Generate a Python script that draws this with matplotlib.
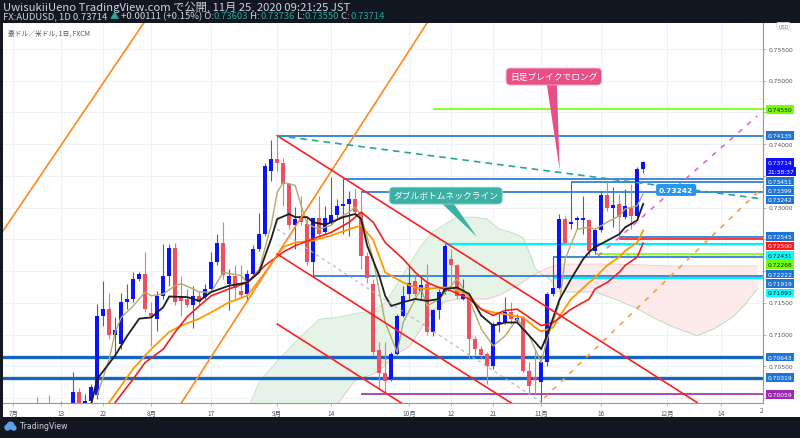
import matplotlib.pyplot as plt
import numpy as np
from matplotlib.patches import Rectangle, Polygon, Circle

plt.rcParams['font.family'] = ['Noto Sans CJK JP', 'DejaVu Sans']

# ---- daily candles (AUDUSD, bar 0 = 1 Jul 2020) ----
opens = [0.6895, 0.6925, 0.6940, 0.6935, 0.6975, 0.6960, 0.6980, 0.6965, 0.6975, 0.6950,
         0.6985, 0.7010, 0.6988, 0.6995, 0.7004, 0.7129, 0.7141, 0.7099, 0.7085, 0.7151,
         0.7156, 0.7188, 0.7195, 0.7134, 0.7125, 0.7161, 0.7193, 0.7236, 0.7159, 0.7156,
         0.7146, 0.7161, 0.7159, 0.7172, 0.7214, 0.7244, 0.7180, 0.7193, 0.7168, 0.7164,
         0.7195, 0.7235, 0.7258, 0.7358, 0.7377, 0.7371, 0.7337, 0.7273, 0.7287, 0.7274,
         0.7214, 0.7283, 0.7261, 0.7277, 0.7288, 0.7302, 0.7306, 0.7314, 0.7293, 0.7224,
         0.7180, 0.7075, 0.7040, 0.7030, 0.7069, 0.7130, 0.7164, 0.7185, 0.7168, 0.7180,
         0.7104, 0.7138, 0.7167, 0.7219, 0.7209, 0.7156, 0.7159, 0.7093, 0.7077, 0.7069,
         0.7051, 0.7117, 0.7119, 0.7135, 0.7122, 0.7127, 0.7043, 0.7033, 0.7025, 0.7056,
         0.7164, 0.7174, 0.7282, 0.7274, 0.7281, 0.7281, 0.7281, 0.7232, 0.7265, 0.7320,
         0.7299, 0.7306, 0.7285, 0.7300, 0.7287, 0.73603]
highs = [0.6935, 0.6960, 0.6955, 0.6985, 0.7002, 0.6985, 0.7004, 0.6985, 0.6996, 0.6990,
         0.7041, 0.7015, 0.7006, 0.7022, 0.7148, 0.7185, 0.7165, 0.7127, 0.7166, 0.7180,
         0.7198, 0.7199, 0.7230, 0.7152, 0.7169, 0.7243, 0.7243, 0.7245, 0.7193, 0.7172,
         0.7177, 0.7169, 0.7180, 0.7230, 0.7258, 0.7277, 0.7203, 0.7209, 0.7209, 0.7201,
         0.7241, 0.7291, 0.7371, 0.7406, 0.74135, 0.7379, 0.7339, 0.7301, 0.7319, 0.7287,
         0.7284, 0.7319, 0.7303, 0.7348, 0.7314, 0.73451, 0.7327, 0.7329, 0.73242, 0.7230,
         0.7188, 0.7088, 0.7088, 0.7072, 0.7132, 0.7177, 0.7209, 0.7193, 0.7193, 0.7211,
         0.7140, 0.7172, 0.72431, 0.7235, 0.7211, 0.7188, 0.7161, 0.7098, 0.7082, 0.7072,
         0.7119, 0.7135, 0.7159, 0.7151, 0.7132, 0.7130, 0.7056, 0.7077, 0.7059, 0.7167,
         0.72222, 0.7290, 0.7287, 0.73399, 0.7287, 0.7319, 0.7282, 0.7266, 0.7327, 0.7340,
         0.7332, 0.7322, 0.7329, 0.7337, 0.7364, 0.73736]
lows = [0.6880, 0.6905, 0.6925, 0.6930, 0.6955, 0.6945, 0.6960, 0.6945, 0.6940, 0.6945,
        0.6975, 0.6980, 0.6978, 0.6985, 0.6998, 0.7114, 0.7093, 0.7067, 0.7077, 0.7140,
        0.7151, 0.7184, 0.7135, 0.7082, 0.7106, 0.7156, 0.7176, 0.7146, 0.7130, 0.7143,
        0.7111, 0.7146, 0.7156, 0.7169, 0.7210, 0.7188, 0.7138, 0.7156, 0.7159, 0.7153,
        0.7193, 0.7232, 0.7256, 0.7342, 0.7358, 0.7303, 0.7266, 0.7235, 0.7272, 0.7209,
        0.71919, 0.7256, 0.7258, 0.7274, 0.7282, 0.7258, 0.7256, 0.7287, 0.7203, 0.7182,
        0.7067, 0.7014, 0.70059, 0.7027, 0.7067, 0.7127, 0.7156, 0.7161, 0.7156, 0.7100,
        0.7098, 0.7125, 0.7164, 0.7174, 0.7156, 0.7154, 0.7061, 0.7067, 0.7061, 0.7022,
        0.7046, 0.7104, 0.7117, 0.7117, 0.7119, 0.7041, 0.7006, 0.7004, 0.6993, 0.7051,
        0.7161, 0.7172, 0.7243, 0.7266, 0.7266, 0.7258, 0.7224, 0.72268, 0.7261, 0.7295,
        0.7269, 0.7250, 0.7282, 0.7266, 0.7285, 0.73550]
closes = [0.6925, 0.6940, 0.6935, 0.6975, 0.6960, 0.6980, 0.6965, 0.6975, 0.6950, 0.6985,
          0.7010, 0.6990, 0.6996, 0.7018, 0.7129, 0.7141, 0.7099, 0.7107, 0.7151, 0.7156,
          0.7188, 0.7195, 0.7140, 0.7129, 0.7161, 0.7193, 0.7236, 0.7151, 0.7153, 0.7146,
          0.7161, 0.7151, 0.7172, 0.7214, 0.7244, 0.7194, 0.7193, 0.7174, 0.7162, 0.7195,
          0.7235, 0.7258, 0.7366, 0.7377, 0.7371, 0.7337, 0.7273, 0.7282, 0.7277, 0.7214,
          0.7283, 0.7258, 0.7283, 0.7288, 0.7302, 0.7306, 0.7314, 0.7293, 0.7224, 0.7189,
          0.7072, 0.7040, 0.7027, 0.7069, 0.7130, 0.7161, 0.7182, 0.7164, 0.7178, 0.7104,
          0.7138, 0.7167, 0.7240, 0.7209, 0.7161, 0.7164, 0.7093, 0.7077, 0.7067, 0.7051,
          0.7117, 0.7119, 0.7135, 0.7125, 0.7126, 0.7043, 0.7019, 0.7030, 0.7056, 0.7164,
          0.7174, 0.7282, 0.7245, 0.7278, 0.7283, 0.7283, 0.7232, 0.7265, 0.7320, 0.7299,
          0.7304, 0.7285, 0.7302, 0.7287, 0.7361, 0.73714]

# ---- indicator lines (bar, price) ----
olive_bars = [14, 16, 17, 18, 20, 22, 23, 25, 27, 28, 30, 31, 33, 35, 38, 39, 40, 41, 43, 44,
              45, 47, 48, 49, 51, 53, 54, 56, 57, 58, 60, 62, 64, 65, 67, 68, 69, 71, 73, 74,
              76, 78, 80, 82, 84, 86, 88, 89, 91, 92, 94, 96, 97, 99, 101, 102, 104, 105]
olive_vals = [0.7004, 0.7061, 0.7104, 0.7127, 0.7145, 0.7167, 0.7161, 0.7164, 0.7177, 0.7180,
              0.7172, 0.7167, 0.7167, 0.7198, 0.7193, 0.7181, 0.7192, 0.7203, 0.7272, 0.7324,
              0.7340, 0.7335, 0.7303, 0.7274, 0.7266, 0.7272, 0.7282, 0.7293, 0.7301, 0.7287,
              0.7219, 0.7119, 0.7072, 0.7119, 0.7156, 0.7172, 0.7145, 0.7156, 0.7177, 0.7188,
              0.7156, 0.7109, 0.7082, 0.7098, 0.7125, 0.7098, 0.7056, 0.7093, 0.7148, 0.7219,
              0.7266, 0.7269, 0.7266, 0.7277, 0.7287, 0.7298, 0.7303, 0.7322]
black_bars = [13, 14, 17, 19, 21, 23, 25, 26, 29, 31, 33, 36, 39, 41, 43, 44, 46, 47, 49, 50,
              52, 53, 55, 57, 58, 59, 61, 62, 63, 65, 67, 69, 71, 72, 74, 76, 78, 80, 82, 84,
              87, 88, 89, 91, 93, 95, 96, 97, 99, 101, 102, 104, 105]
black_vals = [0.6990, 0.7030, 0.7067, 0.7098, 0.7125, 0.7127, 0.7143, 0.7160, 0.7159, 0.7153,
              0.7167, 0.7177, 0.7182, 0.7198, 0.7251, 0.7282, 0.7290, 0.7285, 0.7285, 0.7277,
              0.7273, 0.7277, 0.7285, 0.7290, 0.7282, 0.7240, 0.7193, 0.7161, 0.7145, 0.7151,
              0.7156, 0.7153, 0.7156, 0.7172, 0.7174, 0.7164, 0.7130, 0.7114, 0.7119, 0.7119,
              0.7088, 0.7077, 0.7099, 0.7154, 0.7188, 0.7219, 0.7230, 0.7238, 0.7248, 0.7258,
              0.7269, 0.7280, 0.7306]
orange_bars = [16, 20, 22, 23, 26, 28, 31, 33, 36, 39, 42, 45, 47, 50, 53, 56, 58, 60, 62, 65,
               67, 69, 71, 73, 76, 78, 80, 82, 85, 87, 88, 90, 91, 93, 96, 97, 99, 101, 102, 104, 105]
orange_vals = [0.6993, 0.7046, 0.7067, 0.7077, 0.7104, 0.7114, 0.7125, 0.7135, 0.7151, 0.7161,
               0.7198, 0.7238, 0.7245, 0.7248, 0.7256, 0.7266, 0.7272, 0.7249, 0.7198, 0.7182,
               0.7174, 0.7172, 0.7174, 0.7174, 0.7161, 0.7140, 0.7135, 0.7132, 0.7127, 0.7111,
               0.7105, 0.7111, 0.7128, 0.7156, 0.7182, 0.7190, 0.7209, 0.7222, 0.7232, 0.7245, 0.7264]
red_bars = [17, 20, 22, 25, 27, 29, 31, 33, 36, 39, 42, 45, 47, 50, 53, 56, 58, 60, 62, 65,
            67, 69, 71, 73, 76, 78, 80, 82, 84, 86, 88, 90, 91, 93, 96, 97, 99, 101, 102, 104, 105]
red_vals = [0.6993, 0.7030, 0.7056, 0.7077, 0.7104, 0.7128, 0.7145, 0.7161, 0.7172, 0.7182,
            0.7209, 0.7230, 0.7240, 0.7251, 0.7261, 0.7277, 0.7293, 0.7277, 0.7245, 0.7219,
            0.7198, 0.7182, 0.7174, 0.7169, 0.7156, 0.7140, 0.7130, 0.7138, 0.7140, 0.7127,
            0.7114, 0.7119, 0.7126, 0.7140, 0.7156, 0.7172, 0.7182, 0.7198, 0.7209, 0.7222, 0.7244]

# ---- cloud spans ----
cloud_bars = [39, 41, 44, 47, 51, 54, 57, 60, 62, 64, 66, 68, 70, 72, 74, 77, 79, 81, 83, 85,
              86, 87, 88, 89, 91, 94, 97, 100, 104, 107, 110, 114, 117, 120, 122, 124]
span_a = [0.6980, 0.7025, 0.7058, 0.7088, 0.7124, 0.7127, 0.7133, 0.7138, 0.7150, 0.7180,
          0.7210, 0.7240, 0.7262, 0.7274, 0.7285, 0.7285, 0.7282, 0.7266, 0.7261, 0.7253,
          0.7230, 0.7205, 0.7195, 0.7192, 0.7167, 0.7167, 0.7167, 0.7157, 0.7141, 0.7125,
          0.7112, 0.7098, 0.7110, 0.7128, 0.7148, 0.7172]
span_b = [0.6940, 0.6945, 0.6950, 0.6960, 0.6975, 0.6990, 0.7028, 0.7038, 0.7052, 0.7070,
          0.7081, 0.7110, 0.7138, 0.7152, 0.7156, 0.7156, 0.7156, 0.7162, 0.7172, 0.7183,
          0.7190, 0.7195, 0.7200, 0.7205, 0.7211, 0.7211, 0.7211, 0.7211, 0.7210, 0.7209,
          0.7208, 0.7208, 0.7208, 0.7208, 0.7208, 0.7208]

# ---- drawings ----
ray_prices = [0.74550, 0.74135, 0.73451, 0.73399, 0.73242, 0.72545, 0.72500, 0.72431,
              0.72268, 0.72222, 0.71919, 0.71893, 0.70643, 0.70319, 0.70059]
ray_start = [70, 44, 55, 93, 58, 101, 101, 72, 97, 90, 50, 90, -2, -2, 58]
ray_colors = ['#76ff03', '#1f74d4', '#1f74d4', '#1f74d4', '#1f74d4', '#1f74d4', '#ff1a1a',
              '#00f0ff', '#76ff03', '#1f74d4', '#1f74d4', '#00f0ff', '#1565c0', '#1565c0', '#9c27b0']
ray_widths = [1.2, 1.2, 1.2, 1.2, 1.2, 1.2, 1.2, 1.6, 1.2, 1.2, 1.2, 1.6, 2.4, 2.4, 1.2]

# trend lines: (bar0, price0, bar1, price1)
orange_trends = [(-2, 0.72590, 22, 0.75944), (27, 0.69772, 70, 0.76060)]
red_trends = [(44, 0.74135, 114, 0.69928), (44, 0.72269, 83, 0.69921), (44, 0.71166, 66, 0.69842)]
teal_dash = (44, 0.74135, 125, 0.73136)
gray_dash = (44, 0.72663, 88, 0.69937)
orange_dash = (88.5, 0.70000, 125, 0.73330)
pink_dash = (97.5, 0.72240, 124, 0.74444)

tick_bars = [0, 8, 15, 23, 33, 44, 53, 66, 73, 80, 88, 98, 109, 118]
tick_labels = ['7月', '13', '22', '8月', '17', '9月', '14', '10月', '12', '21', '11月', '16', '12月', '14']
price_ticks = [0.700, 0.705, 0.710, 0.715, 0.720, 0.725, 0.730, 0.735, 0.740, 0.745, 0.750, 0.755]

# price-scale labels (price, background, text colour)
scale_labels = [(0.74550, '#76ff03', '#131722'), (0.74135, '#1f74d4', 'white'),
                (0.73714, '#1010ff', 'white'), (None, '#1010ff', 'white'),
                (0.73451, '#1f74d4', 'white'), (0.73399, '#1f74d4', 'white'),
                (0.73242, '#1f74d4', 'white'), (0.72545, '#1f74d4', 'white'),
                (0.72500, '#ff1a1a', 'white'), (0.72431, '#00ffff', '#131722'),
                (0.72268, '#76ff03', '#131722'), (0.72222, '#1f74d4', 'white'),
                (0.71919, '#1f74d4', 'white'), (0.71893, '#00ffff', '#131722'),
                (0.70643, '#1f74d4', 'white'), (0.70319, '#1f74d4', 'white'),
                (0.70059, '#9c27b0', 'white')]

W, H = 800, 439
BG = '#131722'


def fx(px):
    return px / W


def fy(py):
    return 1 - py / H


fig = plt.figure(figsize=(W / 100, H / 100), dpi=100, facecolor=BG)
fig.patches.append(Rectangle((fx(3.3), fy(418)), 1 - fx(3.3), fy(24) - fy(418),
                             transform=fig.transFigure, fc='white', ec='none', zorder=-2))

ax = fig.add_axes([fx(3.3), fy(404), fx(763) - fx(3.3), fy(24) - fy(404)])
ax.set_facecolor('white')
ax.set_xlim(-1.65, 124.97)
ax.set_ylim(0.69921, 0.75910)
for s in ['left', 'top']:
    ax.spines[s].set_visible(False)
for s in ['right', 'bottom']:
    ax.spines[s].set_color('#9598a1')
    ax.spines[s].set_linewidth(0.8)

ax.set_xticks(tick_bars)
ax.set_xticklabels(tick_labels, fontsize=4.6, color='#50535e')
ax.set_yticks(price_ticks)
ax.yaxis.tick_right()
ax.set_yticklabels([])
ax.tick_params(axis='x', length=2, width=0.5, color='#9598a1', pad=2)
ax.tick_params(axis='y', length=2, width=0.5, color='#9598a1')
ax.grid(True, color='#eef1f7', lw=0.7, zorder=0)
ax.set_axisbelow(True)

# cloud
cb = np.array(cloud_bars)
sa = np.array(span_a)
sb = np.array(span_b)
ax.fill_between(cb, sa, sb, where=sa >= sb, interpolate=True, color='#e6f4e7', lw=0, zorder=0.5)
ax.fill_between(cb, sa, sb, where=sa < sb, interpolate=True, color='#fdeaea', lw=0, zorder=0.5)
ax.plot(cb, sa, color='#a5d6a7', lw=0.6, alpha=0.8, zorder=0.6)
ax.plot(cb, sb, color='#f5b4b4', lw=0.6, alpha=0.8, zorder=0.6)

# horizontal rays
for p, s0, col, lw in zip(ray_prices, ray_start, ray_colors, ray_widths):
    ax.plot([s0, 126], [p, p], color=col, lw=lw, zorder=2, solid_capstyle='butt')

# candles
idx = np.arange(len(opens))
o, h, l, c = map(np.array, (opens, highs, lows, closes))
up = c >= o
body = np.maximum(np.abs(c - o), 0.00013)
ax.vlines(idx[up], l[up], h[up], color='#5d606b', lw=0.8, zorder=3)
ax.vlines(idx[~up], l[~up], h[~up], color='#f4717d', lw=0.8, zorder=3)
ax.bar(idx[up], body[up], bottom=o[up], width=0.66, color='#0a12ff', lw=0, zorder=4)
ax.bar(idx[~up], body[~up], bottom=c[~up], width=0.66, color='#ef4f5f', lw=0, zorder=4)

# moving averages
ax.plot(olive_bars, olive_vals, color='#b3aa6f', lw=1.0, zorder=5)
ax.plot(orange_bars, orange_vals, color='#ff9800', lw=1.3, zorder=5)
ax.plot(red_bars, red_vals, color='#f02020', lw=1.2, zorder=5)
ax.plot(black_bars, black_vals, color='#1e1e1e', lw=1.3, zorder=5)

# trend lines
for b0, p0, b1, p1 in orange_trends:
    ax.plot([b0, b1], [p0, p1], color='#ff8a1c', lw=1.2, zorder=6)
for b0, p0, b1, p1 in red_trends:
    ax.plot([b0, b1], [p0, p1], color='#ff1f1f', lw=1.2, zorder=6)
ax.plot(teal_dash[::2], teal_dash[1::2], color='#26a69a', lw=1.2, ls=(0, (4, 3)), zorder=6)
ax.plot(gray_dash[::2], gray_dash[1::2], color='#b2b5be', lw=0.8, ls=(0, (3, 3)), zorder=6)
ax.plot(orange_dash[::2], orange_dash[1::2], color='#ff9a3c', lw=1.2, ls=(0, (3, 4)), zorder=6)
ax.plot(pink_dash[::2], pink_dash[1::2], color='#e663d8', lw=1.2, ls=(0, (3, 4)), zorder=6)

# callouts
ax.add_patch(Polygon([(71.3, 0.7308), (73.3, 0.7308), (77.3, 0.72537)], closed=True,
                     fc='#3cb0a4', ec='none', zorder=7))
ax.text(72.1, 0.73189, 'ダブルボトムネックライン', fontsize=6.3, color='white', ha='center', va='center',
        zorder=8, bbox=dict(boxstyle='round,pad=0.45,rounding_size=0.5', fc='#3cb0a4', ec='#8fd6cc', lw=0.6))
ax.add_patch(Polygon([(88.9, 0.7497), (90.6, 0.7497), (91.1, 0.73582)], closed=True,
                     fc='#e84f86', ec='none', zorder=7))
ax.text(90.1, 0.75066, '日足ブレイクでロング', fontsize=6.3, color='white', ha='center', va='center',
        zorder=8, bbox=dict(boxstyle='round,pad=0.45,rounding_size=0.5', fc='#e84f86', ec='#f3a0c0', lw=0.6))
ax.add_patch(Polygon([(107.9, 0.7322), (109.2, 0.7322), (106.6, 0.73242)], closed=True,
                     fc='#2196f3', ec='none', zorder=7))
ax.text(110.5, 0.73279, '0.73242', fontsize=5.4, color='white', ha='center', va='center',
        fontweight='bold', family='DejaVu Sans', zorder=8,
        bbox=dict(boxstyle='round,pad=0.4,rounding_size=0.3', fc='#2196f3', ec='none'))

# price scale labels with de-overlap
ytr = ax.get_yaxis_transform()
gap = 0.00148
prev = None
shown = []
for p, bg, fg in scale_labels:
    txt = '21:38:37' if p is None else f'{p:.5f}'
    y = prev - gap if p is None else p
    if prev is not None and prev - y < gap:
        y = prev - gap
    prev = y
    shown.append(y)
    ax.text(1.006, y, txt, transform=ytr, fontsize=4.3, color=fg, ha='left', va='center',
            family='DejaVu Sans', clip_on=False, zorder=9,
            bbox=dict(boxstyle='square,pad=0.3', fc=bg, ec='none'))
for p in price_ticks:
    if min(abs(p - y) for y in shown) > 0.0011:
        ax.text(1.008, p, f'{p:.5f}', transform=ytr, fontsize=4.3, color='#50535e',
                ha='left', va='center', family='DejaVu Sans', clip_on=False)
ax.text(1.02, 0.9985, 'USD', transform=ax.transAxes, fontsize=3.6, color='#787b86', ha='left', va='top',
        family='DejaVu Sans', bbox=dict(boxstyle='round,pad=0.25', fc='white', ec='#d1d4dc', lw=0.5))
fig.text(fx(762), fy(411.5), '2', fontsize=4.6, color='#50535e', ha='center', va='center')

# header
fig.text(fx(3), fy(7), 'UwisukiiUeno TradingView.com で公開, 11月 25, 2020 09:21:25 JST',
         fontsize=8.1, color='#d1d4dc', ha='left', va='center')
pieces = [('FX:AUDUSD, 1D 0.73714 ', '#d1d4dc'), ('▲', '#26a69a'), (' +0.00111 (+0.15%) O:', '#d1d4dc'),
          ('0.73603', '#26a69a'), (' H:', '#d1d4dc'), ('0.73736', '#26a69a'), (' L:', '#d1d4dc'),
          ('0.73550', '#26a69a'), (' C:', '#d1d4dc'), ('0.73714', '#26a69a')]
renderer = fig.canvas.get_renderer()
xpos = 3
for s, col in pieces:
    t = fig.text(fx(xpos), fy(16.5), s, fontsize=6.8, color=col, ha='left', va='center')
    xpos += t.get_window_extent(renderer).width
fig.text(fx(8.5), fy(33.5), '豪ドル／米ドル, 1日, FXCM', fontsize=4.9, color='#50535e', ha='left', va='center')

# footer logo
fig.patches.append(Circle((0.075, 0.105), 0.032, transform=fig.dpi_scale_trans, fc='#5aa0e8', ec='none'))
fig.patches.append(Circle((0.105, 0.125), 0.040, transform=fig.dpi_scale_trans, fc='#5aa0e8', ec='none'))
fig.patches.append(Circle((0.138, 0.100), 0.028, transform=fig.dpi_scale_trans, fc='#5aa0e8', ec='none'))
fig.text(fx(20), fy(427), 'TradingView', fontsize=5.6, color='#d1d4dc', ha='left', va='center',
         family='DejaVu Sans')

fig.savefig('out.png', dpi=100, facecolor=BG)
